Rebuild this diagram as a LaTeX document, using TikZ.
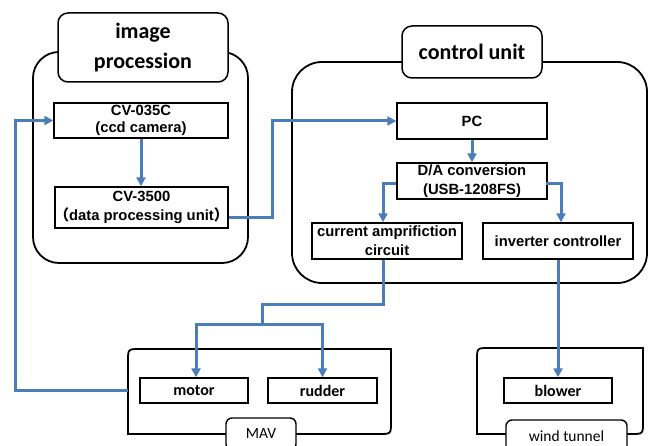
\documentclass[tikz,border=0pt]{standalone}
\usepackage{fontspec}
\setmainfont{Liberation Sans}
\newfontfamily\calibri{Carlito}
\newfontfamily\cjk{Noto Sans CJK SC}
\usetikzlibrary{arrows.meta, positioning}
\definecolor{linkblue}{RGB}{74,126,187}

\begin{document}
\begin{tikzpicture}[
          x=1pt, y=-1pt,
          group/.style={draw, line width=1.8pt, rounded corners=26pt},
          title/.style={draw, fill=white, line width=1.5pt, rounded corners=10pt, inner sep=0pt, align=center, font=\calibri\bfseries\fontsize{22}{30}\selectfont},
          unit/.style={draw, line width=1.4pt, inner sep=0pt, align=center, minimum width=150pt, minimum height=36pt, font=\bfseries\fontsize{14.8}{19}\selectfont},
          part/.style={draw, line width=1.4pt, inner sep=0pt, minimum width=108pt, minimum height=25pt, font=\calibri\bfseries\fontsize{16}{18}\selectfont},
          tag/.style={draw, fill=white, line width=1.4pt, rounded corners=6pt, inner sep=0pt, minimum height=32pt, font=\calibri\fontsize{15.5}{18}\selectfont},
          link/.style={draw=linkblue, line width=3pt},
          arrow/.style={link, -{Triangle[length=9pt, width=9pt]}}
        ]
          \clip (0,0) rectangle (652,446);

          % image procession
          \draw[group] (33,52) rectangle (248,263);
          \node[title, minimum width=170pt, minimum height=69pt] (imgtitle) at (143,47.5) {image\\procession};
          \node[unit, minimum width=174pt, minimum height=35pt, font=\bfseries\fontsize{14.8}{17}\selectfont] (cam) at (141,120.5) {CV-035C\\(ccd camera)};
          \node[unit, minimum width=173pt, minimum height=41pt] (dpu) at (141.5,207.5) {CV-3500\\\kern-5pt{\cjk （}data processing unit{\cjk ）}\kern-5pt};

          % control unit
          \draw[group, rounded corners=30pt] (292,62) rectangle (647,283);
          \node[title, minimum width=140pt, minimum height=52pt] (cutitle) at (472,52) {control unit};
          \node[unit] (pc) at (472,121) {PC};
          \node[unit] (da) at (472,181) {D/A conversion\\(USB-1208FS)};
          \node[unit] (amp) at (387,241) {current amprifiction\\circuit};
          \node[unit] (inv) at (558,241) {inverter controller};

          % MAV
          \draw[line width=1.8pt] (128,434) -- (128,361) .. controls (128,349) .. (140,349) -- (391,349) -- (391,422) .. controls (391,434) .. (379,434) -- cycle;
          \coordinate (mavport) at (128,390);
          \node[part] (motor) at (194,390.5) {motor};
          \node[part, minimum width=109pt] (rudder) at (322.5,390.5) {rudder};

          % wind tunnel
          \draw[line width=1.8pt] (477,434) -- (477,360) .. controls (477,348) .. (489,348) -- (643,348) -- (643,422) .. controls (643,434) .. (631,434) -- cycle;
          \node[part] (blower) at (558,390.5) {blower};

          % Arrows
          \draw[arrow] (cam.south) -- (cam.south |- dpu.north);
          \draw[arrow] ([yshift=-9.5pt]dpu.east) -- ++(44,0) |- (pc.west);
          \draw[arrow] (pc) -- (da);
          \draw[arrow] ([yshift=-3pt]da.west) -| ([xshift=-4pt]amp.north);
          \draw[arrow] ([yshift=-3pt, xshift=-2pt]da.east) -| ([xshift=3pt]inv.north);
          \draw[arrow] (inv.south) -- (inv.south |- blower.north);

          \coordinate (split) at (262,324);
          \draw[link] ([xshift=-4pt]amp.south) |- (262,304) -- (split);
          \draw[arrow] (split) -| ([xshift=2pt]motor.north);
          \draw[arrow] (split) -| (rudder.north);

          \draw[arrow] (mavport) -- ++(-113,0) |- (cam.west);

          % labels
          \node[tag, minimum width=70pt] (mavtag) at (261,434) {MAV};
          \node[tag, minimum width=121pt] (wttag) at (566.5,436) {wind tunnel};
        \end{tikzpicture}
\end{document}
